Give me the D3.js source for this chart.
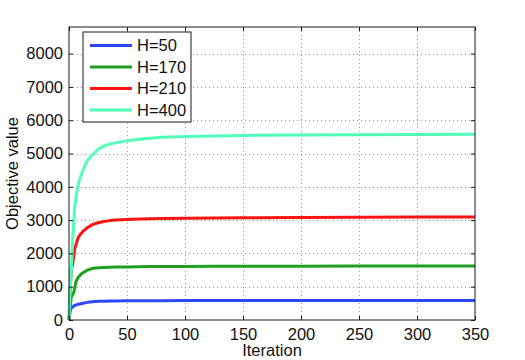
<!DOCTYPE html>
<html>
<head>
<meta charset="utf-8">
<script src="https://cdn.jsdelivr.net/npm/d3@7"></script>
<style>
  body { margin: 0; background: #fff; }
  svg text { font-family: "Liberation Sans", Arial, Helvetica, sans-serif; }
</style>
</head>
<body>
<div id="chart"></div>
<script>
// iterations
const iterations = [0, 1, 2, 3, 4, 5, 6, 7, 8, 9, 10, 12, 14, 16, 18, 20, 23, 26, 30, 35, 40, 50, 60, 70, 80, 100, 125, 150, 200, 250, 300, 350];

const h50  = [0, 280, 360, 390, 420, 440, 450, 465, 470, 480, 490, 505, 515, 530, 540, 550, 555, 562, 565, 570, 572, 575, 578, 580, 580, 582, 584, 585, 586, 587, 588, 588];
const h170 = [0, 380, 700, 760, 820, 960, 1150, 1220, 1290, 1320, 1360, 1420, 1460, 1500, 1520, 1550, 1560, 1570, 1580, 1585, 1590, 1595, 1600, 1605, 1608, 1610, 1612, 1615, 1617, 1620, 1622, 1625];
const h210 = [0, 900, 1580, 1620, 1900, 2150, 2250, 2380, 2480, 2530, 2580, 2660, 2720, 2780, 2820, 2860, 2900, 2930, 2960, 2985, 3000, 3020, 3030, 3040, 3045, 3055, 3065, 3070, 3080, 3085, 3090, 3095];
const h400 = [0, 900, 1500, 2300, 2900, 3400, 3650, 3900, 4080, 4200, 4300, 4500, 4650, 4800, 4880, 4950, 5050, 5150, 5220, 5280, 5320, 5380, 5430, 5460, 5490, 5510, 5530, 5545, 5555, 5565, 5575, 5580];

const seriesNames = ['H=50', 'H=170', 'H=210', 'H=400'];
const seriesColors = ['#2b48ff', '#1f9e1f', '#ff1414', '#50ffb8'];
const seriesValues = [h50, h170, h210, h400];

const xTicks = [0, 50, 100, 150, 200, 250, 300, 350];
const yTicks = [0, 1000, 2000, 3000, 4000, 5000, 6000, 7000, 8000];

const width = 525, height = 360;
const margin = {top: 27, right: 50, bottom: 40, left: 69};
const fontSize = 16.5;

const svg = d3.select('#chart').append('svg')
  .attr('width', width)
  .attr('height', height);

const x = d3.scaleLinear()
  .domain([0, 350])
  .range([margin.left, width - margin.right]);

const y = d3.scaleLinear()
  .domain([0, 8800])
  .range([height - margin.bottom, margin.top]);

// grid
const grid = svg.append('g')
  .attr('stroke', '#9a9a9a')
  .attr('stroke-width', 1)
  .attr('stroke-dasharray', '1,3');

grid.selectAll('line.gx')
  .data(xTicks.slice(1, -1))
  .join('line')
    .attr('x1', d => x(d) + 0.5).attr('x2', d => x(d) + 0.5)
    .attr('y1', y(8800)).attr('y2', y(0));

grid.selectAll('line.gy')
  .data(yTicks.slice(1))
  .join('line')
    .attr('y1', d => Math.round(y(d)) + 0.5).attr('y2', d => Math.round(y(d)) + 0.5)
    .attr('x1', x(0)).attr('x2', x(350));

// lines
const line = d3.line()
  .x((d, i) => x(iterations[i]))
  .y(d => y(d));

svg.append('g')
  .attr('fill', 'none')
  .attr('stroke-width', 3)
  .attr('stroke-linejoin', 'round')
  .selectAll('path')
  .data(seriesValues)
  .join('path')
    .attr('stroke', (d, i) => seriesColors[i])
    .attr('d', line);

// axes
const tickLen = 4;
const axisColor = '#1a1a1a';

const xAxis = g => g
  .attr('transform', `translate(0,${y(0)})`)
  .call(d3.axisBottom(x).tickValues(xTicks).tickSize(-tickLen).tickPadding(8))
  .call(g => g.select('.domain').remove());

const yAxis = g => g
  .attr('transform', `translate(${x(0)},0)`)
  .call(d3.axisLeft(y).tickValues(yTicks).tickFormat(d3.format('d')).tickSize(-tickLen).tickPadding(6))
  .call(g => g.select('.domain').remove());

const xTop = g => g
  .attr('transform', `translate(0,${y(8800)})`)
  .call(d3.axisTop(x).tickValues(xTicks).tickSize(-tickLen).tickFormat(''))
  .call(g => g.select('.domain').remove());

const yRight = g => g
  .attr('transform', `translate(${x(350)},0)`)
  .call(d3.axisRight(y).tickValues(yTicks).tickSize(-tickLen).tickFormat(''))
  .call(g => g.select('.domain').remove());

[xAxis, yAxis, xTop, yRight].forEach(a => {
  svg.append('g').call(a)
    .call(g => g.selectAll('line').attr('stroke', axisColor))
    .call(g => g.selectAll('text').attr('fill', '#111').attr('font-size', fontSize));
});

// box
svg.append('rect')
  .attr('x', x(0)).attr('y', y(8800))
  .attr('width', x(350) - x(0)).attr('height', y(0) - y(8800))
  .attr('fill', 'none')
  .attr('stroke', axisColor)
  .attr('stroke-width', 1);

// axis labels
svg.append('text')
  .attr('x', (x(0) + x(350)) / 2)
  .attr('y', 356)
  .attr('text-anchor', 'middle')
  .attr('font-size', fontSize)
  .attr('fill', '#111')
  .text('Iteration');

svg.append('text')
  .attr('transform', `translate(18,${(y(0) + y(8800)) / 2}) rotate(-90)`)
  .attr('text-anchor', 'middle')
  .attr('font-size', fontSize)
  .attr('fill', '#111')
  .text('Objective value');

// legend
const legend = svg.append('g').attr('transform', 'translate(83,32)');
legend.append('rect')
  .attr('width', 108).attr('height', 90)
  .attr('fill', '#fff')
  .attr('stroke', axisColor);

const items = legend.selectAll('g.item')
  .data(seriesNames)
  .join('g')
    .attr('transform', (d, i) => `translate(0,${13.5 + i * 21.5})`);

items.append('line')
  .attr('x1', 7).attr('x2', 49)
  .attr('stroke', (d, i) => seriesColors[i])
  .attr('stroke-width', 3);

items.append('text')
  .attr('x', 54)
  .attr('dy', '0.36em')
  .attr('font-size', fontSize)
  .attr('fill', '#111')
  .text(d => d);
</script>
</body>
</html>
